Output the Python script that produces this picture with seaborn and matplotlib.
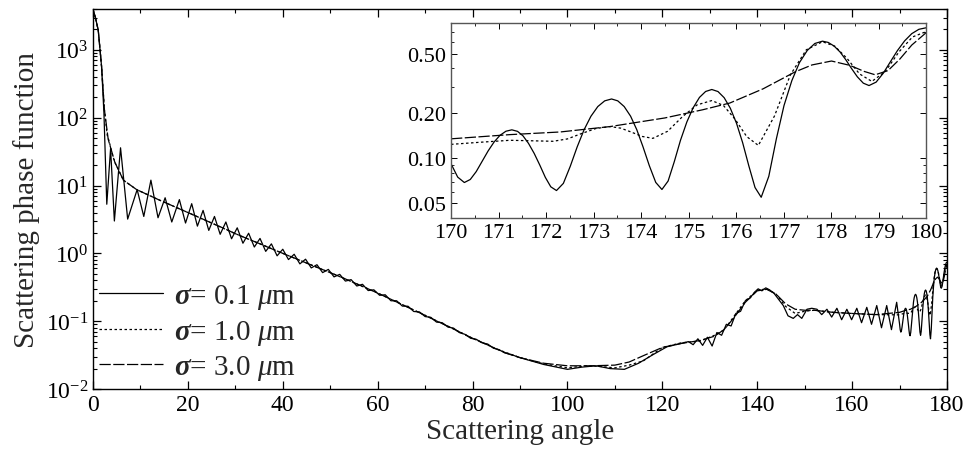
import pandas as pd
import matplotlib
matplotlib.use('Agg')
import matplotlib.pyplot as plt
import seaborn as sns
from matplotlib.ticker import MultipleLocator, LogLocator, NullFormatter, FixedLocator, FixedFormatter

# ---- main panel, 0-170 deg (170-180 comes from the zoom arrays further down)
ang_s01 = [0, 0.5, 1.1, 1.8, 2.3, 2.9, 3.7, 4.5, 5.8, 7.3, 9.3, 10.7, 12.2, 13.7, 15.2, 16.6, 18.2, 19.5,
           20.8, 22.0, 23.2, 24.4, 25.6, 26.8, 28.0, 29.2, 30.4, 31.6, 32.8, 34.0, 35.2, 36.4, 37.6, 38.8,
           40.0, 41.2, 42.4, 43.6, 44.8, 46.0, 47.2, 48.4, 49.6, 50.8, 52.0, 53.2, 54.4, 55.6, 56.8, 58.0,
           59.2, 60.4, 61.6, 62.8, 64.0, 65.2, 66.4, 67.6, 68.8, 70.0, 71.2, 72.4, 73.6, 74.8, 76.0, 77.2,
           78.4, 79.6, 80.8, 82.0, 83.2, 84.4, 85.6, 86.8, 88.0, 90, 95, 100, 103, 106, 109, 112, 115, 118,
           121, 124, 125.5, 126.5, 127.5, 128.5, 129.5, 130.5, 131.5, 132.5, 133.5, 134.5, 135.5, 136.5,
           137.5, 138.5, 139.5, 140.2, 141, 141.8, 142.6, 143.5, 144.5, 145.5, 146.5, 147.6, 148.5, 149.4,
           150.5, 151.5, 152.6, 153.6, 154.7, 155.7, 156.8, 157.8, 158.9, 159.9, 161.0, 162.0, 163.1, 164.1,
           165.2, 166.2, 167.3, 168.3, 169.4]
pf_s01 = [3900, 3000, 1950, 570, 117, 5.3, 35, 3.0, 36, 3.2, 8.7, 3.5, 12.0, 3.35, 6.6, 2.9, 6.2, 2.8,
          5.4, 2.52, 4.3, 2.18, 3.5, 1.91, 2.9, 1.64, 2.38, 1.41, 1.98, 1.24, 1.66, 1.07, 1.38, 0.92,
          1.15, 0.81, 0.97, 0.70, 0.82, 0.61, 0.68, 0.52, 0.58, 0.45, 0.49, 0.39, 0.41, 0.33, 0.35, 0.283,
          0.29, 0.241, 0.245, 0.20, 0.20, 0.167, 0.166, 0.139, 0.137, 0.117, 0.114, 0.097, 0.095, 0.082, 0.079, 0.068,
          0.064, 0.056, 0.054, 0.048, 0.046, 0.040, 0.038, 0.034, 0.0325, 0.029, 0.023, 0.0195, 0.021, 0.022, 0.020, 0.0195, 0.024, 0.032,
          0.042, 0.047, 0.050, 0.045, 0.055, 0.044, 0.058, 0.043, 0.068, 0.062, 0.09, 0.085, 0.13, 0.14,
          0.20, 0.22, 0.27, 0.30, 0.28, 0.31, 0.29, 0.26, 0.21, 0.17, 0.12, 0.11, 0.125, 0.11,
          0.15, 0.155, 0.15, 0.125, 0.15, 0.115, 0.155, 0.105, 0.15, 0.105, 0.155, 0.095, 0.16, 0.09,
          0.17, 0.08, 0.17, 0.075, 0.19]

ang_s10 = [0, 0.5, 1.1, 1.8, 2.4, 3.0, 3.4, 4.0, 4.6, 6.4, 9.2, 14, 20, 25, 30, 35, 40, 45, 50, 55, 60,
           65, 70, 75, 80, 85, 90, 95, 100, 104, 107, 110, 113, 116, 120, 124, 128, 131, 133, 135, 137.5,
           140, 142, 144, 146, 148, 150, 152, 156, 160, 165]
pf_s10 = [3900, 3000, 1950, 570, 131, 55, 45, 30, 22, 12, 8.7, 6.1, 4.0, 2.8, 1.95, 1.4, 1.0, 0.72, 0.52, 0.37, 0.26,
          0.178, 0.122, 0.083, 0.056, 0.039, 0.029, 0.0235, 0.0205, 0.022, 0.0215, 0.0205, 0.0225, 0.026, 0.041, 0.048, 0.051, 0.062, 0.074, 0.115, 0.2,
          0.285, 0.3, 0.25, 0.165, 0.13, 0.14, 0.145, 0.135, 0.13, 0.125]

ang_s30 = [0, 0.5, 1.1, 1.8, 2.4, 3.2, 4.6, 6.4, 9.2, 14, 20, 22.5, 25, 27.5, 30, 32.5, 35, 37.5, 40, 42.5,
           45, 47.5, 50, 52.5, 55, 57.5, 60, 62.5, 65, 67.5, 70, 72.5, 75, 77.5, 80, 82.5, 85, 87.5, 90, 95,
           100, 105, 110, 113, 116, 120, 124, 128, 131, 133, 135, 137.5, 140, 142, 144, 146, 148, 150, 152,
           156, 160, 165]
pf_s30 = [3900, 3000, 1950, 570, 131, 48, 22, 12, 8.7, 6.1, 4.0, 3.35, 2.8, 2.35, 1.95, 1.65, 1.4, 1.18, 1.0, 0.85,
          0.72, 0.61, 0.52, 0.44, 0.37, 0.31, 0.26, 0.215, 0.178, 0.147, 0.122, 0.10, 0.083, 0.068, 0.056, 0.047, 0.039, 0.033, 0.029, 0.024,
          0.022, 0.022, 0.0225, 0.025, 0.031, 0.041, 0.047, 0.052, 0.06, 0.075, 0.11, 0.19, 0.28, 0.295, 0.25, 0.18, 0.15, 0.145, 0.145,
          0.135, 0.13, 0.125]

# ---- backscatter zoom, 170-180 deg
zang_s01 = [170.0, 170.14, 170.28, 170.405, 170.53, 170.655, 170.78, 170.905, 171.03, 171.155, 171.28,
            171.40, 171.515, 171.63, 171.75, 171.87, 171.985, 172.10, 172.22, 172.365, 172.51, 172.655,
            172.80, 172.945, 173.09, 173.235, 173.38, 173.51, 173.645, 173.78, 173.91, 174.04, 174.175,
            174.31, 174.44, 174.57, 174.70, 174.83, 174.965, 175.10, 175.23, 175.36, 175.49, 175.62, 175.75,
            175.88, 176.01, 176.14, 176.27, 176.40, 176.53, 176.69, 176.85, 177.01, 177.175, 177.335, 177.5,
            177.66, 177.82, 177.94, 178.065, 178.19, 178.31, 178.43, 178.555, 178.68, 178.8, 178.95, 179.1,
            179.25, 179.4, 179.55, 179.7, 179.85, 180.0]
zpf_s01 = [0.092, 0.075, 0.069, 0.0723, 0.0816, 0.0956, 0.112, 0.1284, 0.1424, 0.1517, 0.155,
           0.1514, 0.1413, 0.126, 0.108, 0.090, 0.0747, 0.0646, 0.061, 0.0681, 0.0885, 0.1191,
           0.155, 0.1909, 0.2216, 0.2419, 0.249, 0.2419, 0.2217, 0.1912, 0.1555, 0.1198, 0.0893,
           0.0691, 0.062, 0.0706, 0.095, 0.1318, 0.175, 0.2182, 0.255, 0.2794, 0.288, 0.2791, 0.254,
           0.216, 0.1715, 0.127, 0.089, 0.0639, 0.055, 0.0759, 0.1353, 0.225, 0.33, 0.435, 0.5247,
           0.584, 0.605, 0.5936, 0.5613, 0.5126, 0.4555, 0.3984, 0.3497, 0.3174, 0.306, 0.3226, 0.3698,
           0.441, 0.5245, 0.608, 0.6792, 0.726, 0.743]

zang_s10 = [170.0, 170.6, 171.24, 171.7, 172.15, 172.45, 172.75, 173.05, 173.35, 173.575, 173.8, 174.025,
            174.25, 174.56, 174.87, 175.18, 175.49, 175.735, 175.98, 176.225, 176.47, 176.81, 177.145,
            177.48, 177.82, 178.08, 178.34, 178.6, 178.86, 179.145, 179.43, 179.715, 180.0]
zpf_s10 = [0.124, 0.128, 0.132, 0.131, 0.130, 0.1348, 0.1465, 0.1582, 0.163, 0.159, 0.1495, 0.14,
           0.136, 0.1516, 0.1895, 0.2274, 0.243, 0.2253, 0.1825, 0.1397, 0.122, 0.1918, 0.361,
           0.5302, 0.60, 0.56, 0.463, 0.366, 0.326, 0.3806, 0.513, 0.6454, 0.70]

zang_s30 = [170.0, 171.24, 172.3, 173.35, 174.5, 175.3, 175.87, 176.57, 177.24, 177.6, 178.01, 178.4,
            178.7, 178.93, 179.2, 179.45, 179.7, 180.0]
zpf_s30 = [0.135, 0.144, 0.150, 0.163, 0.186, 0.211, 0.234, 0.291, 0.377, 0.420, 0.446, 0.417,
           0.38, 0.361, 0.385, 0.46, 0.57, 0.688]

labels = [r'$\mathbf{\sigma}$= 0.1 $\mu$m', r'$\mathbf{\sigma}$= 1.0 $\mu$m', r'$\mathbf{\sigma}$= 3.0 $\mu$m']
styles = ['-', (0, (2, 2)), (0, (9, 2))]

sns.set_theme(style='ticks')
plt.rcParams['font.family'] = ['Liberation Serif', 'DejaVu Serif']
plt.rcParams['mathtext.fontset'] = 'custom'
plt.rcParams['mathtext.rm'] = 'Liberation Serif'
plt.rcParams['mathtext.it'] = 'Liberation Serif:italic'
plt.rcParams['mathtext.bf'] = 'Liberation Serif:italic:bold'
plt.rcParams['xtick.direction'] = 'in'
plt.rcParams['ytick.direction'] = 'in'

main_sets = [(ang_s01 + zang_s01, pf_s01 + zpf_s01),
             (ang_s10 + zang_s10, pf_s10 + zpf_s10),
             (ang_s30 + zang_s30, pf_s30 + zpf_s30)]
zoom_sets = [(zang_s01, zpf_s01), (zang_s10, zpf_s10), (zang_s30, zpf_s30)]

fig = plt.figure(figsize=(9.65, 4.56), dpi=100)
ax = fig.add_axes([0.0964, 0.1447, 0.8849, 0.8333])

for (a, p), lab, ls in zip(main_sets, labels, styles):
    df = pd.DataFrame({'angle': a, 'pf': p})
    sns.lineplot(data=df, x='angle', y='pf', ax=ax, color='black', lw=0.9, linestyle=ls,
                 label=lab, estimator=None, sort=False)

ax.set_yscale('log')
ax.set_xlim(0, 180)
ax.set_ylim(1e-2, 4e3)
ax.xaxis.set_major_locator(MultipleLocator(20))
ax.xaxis.set_minor_locator(MultipleLocator(10))
ax.yaxis.set_major_locator(LogLocator(base=10, numticks=10))
ax.yaxis.set_minor_locator(LogLocator(base=10, subs=range(2, 10), numticks=20))
ax.yaxis.set_minor_formatter(NullFormatter())
ax.tick_params(which='both', top=True, right=True, labelsize=17, colors='black')
ax.tick_params(which='major', length=6, width=0.9)
ax.tick_params(which='minor', length=3, width=0.8)
for s in ax.spines.values():
    s.set_color('black')
    s.set_linewidth(1.0)
ax.set_xlabel('Scattering angle', fontsize=21, labelpad=2)
ax.set_ylabel('Scattering phase function', fontsize=21, labelpad=4)
ax.legend(loc='lower left', bbox_to_anchor=(-0.003, -0.005), frameon=False, fontsize=21,
          handlelength=2.2, handletextpad=0.35, labelspacing=0.22, borderaxespad=0, borderpad=0.3)

# inset
axin = fig.add_axes([0.4674, 0.5197, 0.4922, 0.4277])
axin.set_facecolor('white')
for (a, p), ls in zip(zoom_sets, styles):
    df = pd.DataFrame({'angle': a, 'pf': p})
    sns.lineplot(data=df, x='angle', y='pf', ax=axin, color='black', lw=0.9, linestyle=ls,
                 estimator=None, sort=False, legend=False)
axin.set_yscale('log')
axin.set_xlim(170, 180)
axin.set_ylim(0.04, 0.8)
axin.xaxis.set_major_locator(MultipleLocator(1))
axin.xaxis.set_minor_locator(MultipleLocator(0.5))
axin.yaxis.set_major_locator(FixedLocator([0.05, 0.1, 0.2, 0.5]))
axin.yaxis.set_major_formatter(FixedFormatter(['0.05', '0.10', '0.20', '0.50']))
axin.yaxis.set_minor_locator(LogLocator(base=10, subs=range(2, 10), numticks=20))
axin.yaxis.set_minor_formatter(NullFormatter())
axin.tick_params(which='both', top=True, right=True, labelsize=16, colors='black')
axin.tick_params(which='major', length=4, width=0.7)
axin.tick_params(which='minor', length=2.5, width=0.6)
for s in axin.spines.values():
    s.set_color('#555555')
    s.set_linewidth(1.0)
axin.set_xlabel('')
axin.set_ylabel('')

fig.savefig('out.png', dpi=100)
